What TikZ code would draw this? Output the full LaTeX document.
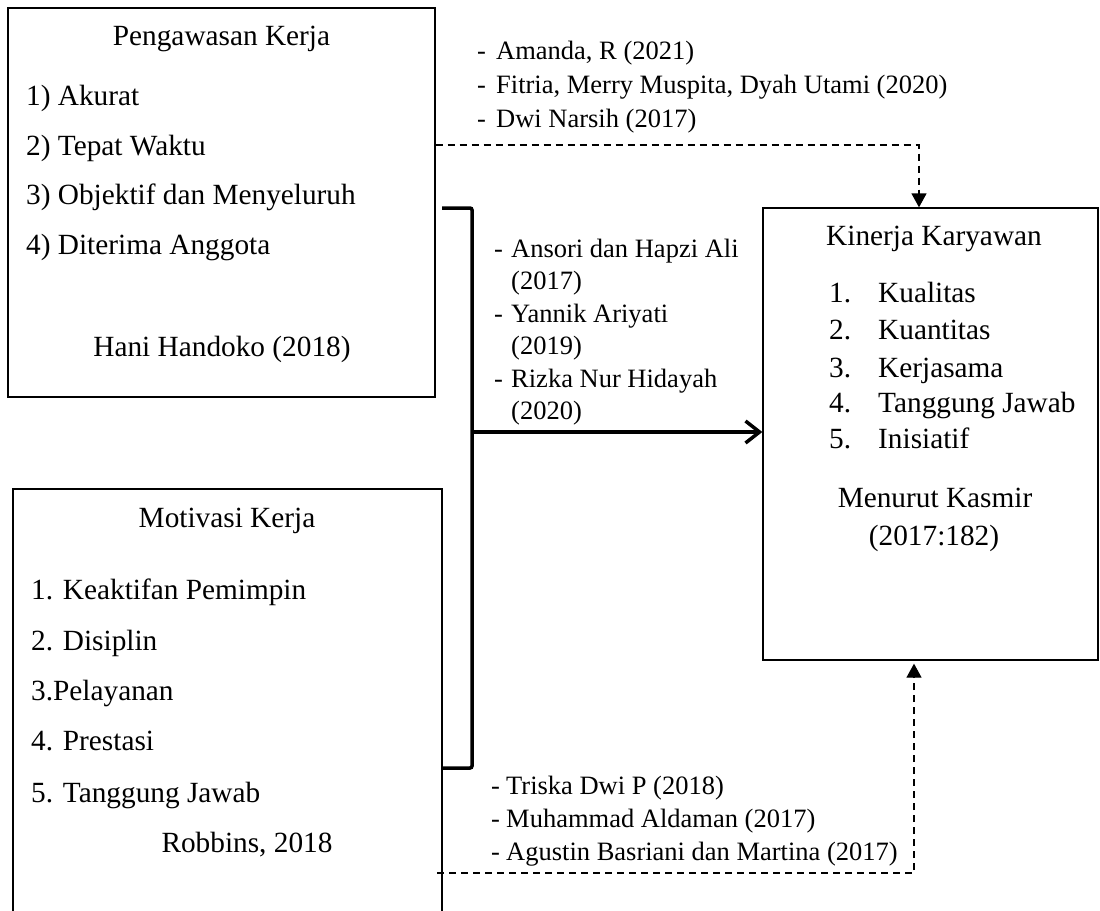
\documentclass[tikz,border=0pt]{standalone}
\usepackage{fontspec}
\setmainfont{Liberation Serif}
\usetikzlibrary{arrows.meta,calc}
\begin{document}
\begin{tikzpicture}[x=1pt,y=-1pt,
  box/.style={draw,line width=1.3pt,inner sep=0pt},
  bt/.style={font=\fontsize{29.3}{35}\selectfont,inner sep=0pt},
  lt/.style={font=\fontsize{26.5}{32}\selectfont,inner sep=0pt},
  dashline/.style={line width=1.3pt,dash pattern=on 7pt off 5pt},
  filltip/.style={-{Triangle[length=14pt,width=15pt]}},
  bracketline/.style={line width=3.5pt,rounded corners=2pt},
  thickarrow/.style={line width=3.5pt,-{Straight Barb[length=14pt,width=22pt,line width=3.5pt]}}
]
\useasboundingbox (0,0) rectangle (1100,910);

% boxes
\node[box,minimum width=427pt,minimum height=389pt] (pk) at (221.5,202.5) {};
\node[box,minimum width=429pt,minimum height=451pt] (mk) at (227.5,714.5) {};
\node[box,minimum width=335pt,minimum height=452pt] (kk) at (930.5,434) {};

% box 1 text
\node[bt,anchor=base] (pk-t) at (221.5,45) {Pengawasan Kerja};
\foreach \y/\t [count=\i] in {105/{1) Akurat},155/{2) Tepat Waktu},204/{3) Objektif dan Menyeluruh},254/{4) Diterima Anggota}}
  \node[bt,anchor=base west] (pk-\i) at (26,\y) {\t};
\node[bt,anchor=base] (pk-s) at (222,356) {Hani Handoko (2018)};

% box 2 text
\node[bt,anchor=base] (mk-t) at (227,527) {Motivasi Kerja};
\foreach \y/\t [count=\i] in {599/{1. Keaktifan Pemimpin},650/{2. Disiplin},700/{3.Pelayanan},750/{4. Prestasi},802/{5. Tanggung Jawab}}
  \node[bt,anchor=base west] (mk-\i) at (31,\y) {\t};
\node[bt,anchor=base] (mk-s) at (247,852) {Robbins, 2018};

% box 3 text
\node[bt,anchor=base] (kk-t) at (934,245) {Kinerja Karyawan};
\foreach \y/\t [count=\i] in {302/Kualitas,339/Kuantitas,377/Kerjasama,412/{Tanggung Jawab},448/Inisiatif}{
  \node[bt,anchor=base west] (kk-n\i) at (829,\y) {\i.};
  \node[bt,anchor=base west] (kk-\i) at (878,\y) {\t};
}
\node[bt,anchor=base] (kk-s1) at (935,507) {Menurut Kasmir};
\node[bt,anchor=base] (kk-s2) at (934,545) {(2017:182)};

% top references
\foreach \y/\t [count=\i] in {59/{Amanda, R (2021)},93/{Fitria, Merry Muspita, Dyah Utami (2020)},127/{Dwi Narsih (2017)}}{
  \node[lt,anchor=base west] (ta-h\i) at (477,\y) {-};
  \node[lt,anchor=base west] (ta-\i) at (496,\y) {\t};
}

% middle references
\foreach \y/\t [count=\i] in {257/{Ansori dan Hapzi Ali},322/{Yannik Ariyati},387/{Rizka Nur Hidayah}}
  \node[lt,anchor=base west] (ma-h\i) at (494,\y) {-};
\foreach \y/\t [count=\i] in {257/{Ansori dan Hapzi Ali},289.5/{(2017)},322/{Yannik Ariyati},354.5/{(2019)},387/{Rizka Nur Hidayah},419.5/{(2020)}}
  \node[lt,anchor=base west] (ma-\i) at (511,\y) {\t};

% bottom references
\foreach \y/\t [count=\i] in {794/{Triska Dwi P (2018)},827/{Muhammad Aldaman (2017)},860/{Agustin Basriani dan Martina (2017)}}{
  \node[lt,anchor=base west] (ba-h\i) at (491,\y) {-};
  \node[lt,anchor=base west] (ba-\i) at (506,\y) {\t};
}

% connectors
\coordinate (c1) at (919,145);
\draw[dashline,filltip] (pk.east |- c1) -- (c1) -- (c1 |- kk.north);

\coordinate (br1) at (442,208);
\coordinate (br2) at (472,208);
\coordinate (br3) at (472,768);
\coordinate (br4) at (442,768);
\draw[bracketline] (br1) -- (br2) -- (br3) -- (br4);

\coordinate (brm) at (472,432);
\draw[thickarrow] (brm) -- (kk.west |- brm);

\coordinate (c2) at (914,873);
\coordinate (c2s) at (437,873);
\draw[dashline,filltip,shorten >=3pt] (c2s) -- (c2) -- (c2 |- kk.south);
\end{tikzpicture}
\end{document}
